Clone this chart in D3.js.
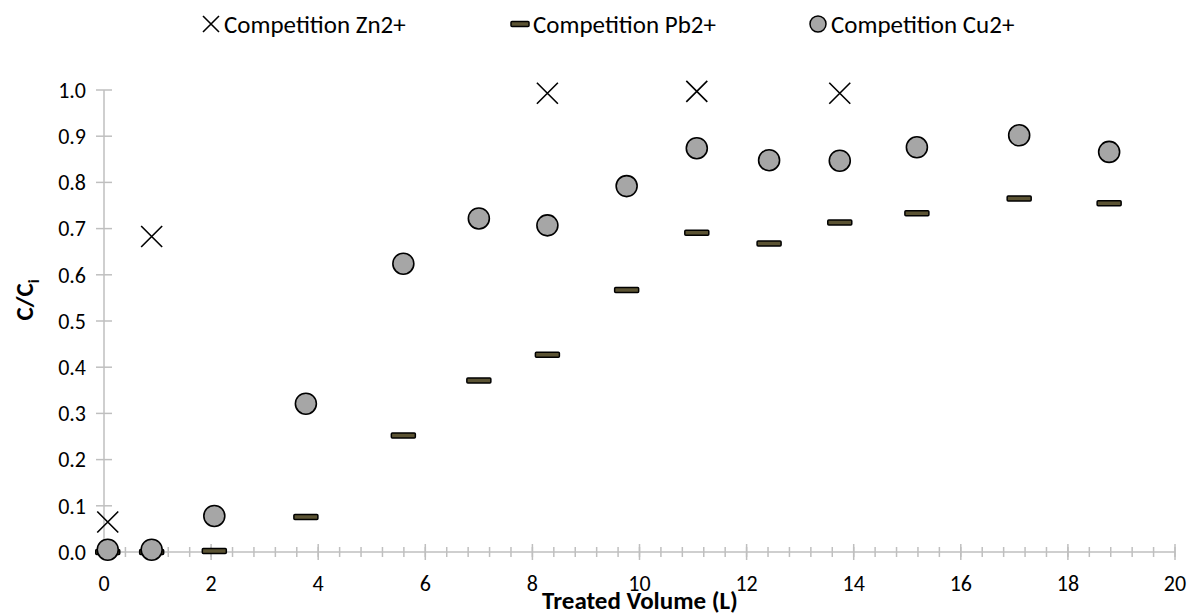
<!DOCTYPE html>
<html>
<head>
<meta charset="utf-8">
<script src="https://cdn.jsdelivr.net/npm/d3@7"></script>
<style>
  body { margin: 0; background: #fff; }
  text { font-family: Calibri, Carlito, Lato, "Open Sans", sans-serif; fill: #000; }
</style>
</head>
<body>
<div id="chart"></div>
<script>
// Data
const volume = [0.07, 0.89, 2.06, 3.77, 5.59, 7.0, 8.28, 9.76, 11.07, 12.42, 13.74, 15.18, 17.09, 18.77];
const cuValues = [0.005, 0.005, 0.078, 0.321, 0.624, 0.722, 0.707, 0.792, 0.874, 0.848, 0.847, 0.876, 0.902, 0.866];
const pbValues = [0.0, 0.0, 0.002, 0.076, 0.252, 0.371, 0.427, 0.567, 0.691, 0.668, 0.713, 0.733, 0.765, 0.755];
const znVolume = [0.07, 0.89, 8.28, 11.07, 13.74];
const znValues = [0.065, 0.683, 0.993, 0.997, 0.993];
const xTicks = [0, 2, 4, 6, 8, 10, 12, 14, 16, 18, 20];
const yTicks = [0, 0.1, 0.2, 0.3, 0.4, 0.5, 0.6, 0.7, 0.8, 0.9, 1.0];
const seriesNames = ["Competition Zn2+", "Competition Pb2+", "Competition Cu2+"];

const width = 1189, height = 616;
const axisColor = "#bfbfbf";

const svg = d3.select("#chart")
  .append("svg")
  .attr("width", width)
  .attr("height", height);

const x = d3.scaleLinear().domain([0, 20]).range([104, 1175]);
const y = d3.scaleLinear().domain([0, 1]).range([552, 90]);

// Y axis (cross ticks)
const yAxis = svg.append("g").attr("transform", `translate(${x(0)},0)`);
yAxis.append("line")
  .attr("y1", y(1)).attr("y2", y(0))
  .attr("stroke", axisColor).attr("stroke-width", 1.5);
yAxis.selectAll("line.tick")
  .data(yTicks)
  .join("line")
  .attr("class", "tick")
  .attr("x1", -8).attr("x2", 8)
  .attr("y1", d => y(d)).attr("y2", d => y(d))
  .attr("stroke", axisColor).attr("stroke-width", 1.5);
yAxis.selectAll("text")
  .data(yTicks)
  .join("text")
  .attr("x", -18)
  .attr("y", d => y(d))
  .attr("dy", "0.35em")
  .attr("text-anchor", "end")
  .style("font-size", "22px")
  .text(d3.format(".1f"));

// X axis with major and minor cross ticks
const xAxis = svg.append("g").attr("transform", `translate(0,${y(0)})`);
xAxis.append("line")
  .attr("x1", x(0)).attr("x2", x(20))
  .attr("stroke", axisColor).attr("stroke-width", 1.5);
xAxis.selectAll("line.minor")
  .data(d3.range(0, 51).map(i => i * 0.4))
  .join("line")
  .attr("class", "minor")
  .attr("x1", d => x(d)).attr("x2", d => x(d))
  .attr("y1", -5).attr("y2", 5)
  .attr("stroke", axisColor).attr("stroke-width", 1.5);
xAxis.selectAll("line.major")
  .data(xTicks)
  .join("line")
  .attr("class", "major")
  .attr("x1", d => x(d)).attr("x2", d => x(d))
  .attr("y1", -8).attr("y2", 8)
  .attr("stroke", axisColor).attr("stroke-width", 1.5);
xAxis.selectAll("text")
  .data(xTicks)
  .join("text")
  .attr("x", d => x(d))
  .attr("y", 31)
  .attr("dy", "0.35em")
  .attr("text-anchor", "middle")
  .style("font-size", "22px")
  .text(d => d);

// Axis titles
svg.append("text")
  .attr("x", 640)
  .attr("y", 609)
  .attr("text-anchor", "middle")
  .style("font-size", "25px")
  .style("font-weight", "bold")
  .text("Treated Volume (L)");

const yTitle = svg.append("text")
  .attr("transform", `translate(33,300) rotate(-90)`)
  .attr("text-anchor", "middle")
  .style("font-size", "25px")
  .style("font-weight", "bold");
yTitle.append("tspan").text("C/C");
yTitle.append("tspan").attr("dy", 6).style("font-size", "16px").text("i");

// Marker helpers
function drawCross(g, cx, cy, s) {
  g.append("path")
    .attr("d", `M${cx - s},${cy - s}L${cx + s},${cy + s}M${cx - s},${cy + s}L${cx + s},${cy - s}`)
    .attr("stroke", "#000").attr("stroke-width", 1.6).attr("fill", "none");
}

// Zn2+ series
const znG = svg.append("g");
znVolume.forEach((v, i) => drawCross(znG, x(v), y(znValues[i]), 10.5));

// Pb2+ series
svg.append("g")
  .selectAll("rect")
  .data(volume)
  .join("rect")
  .attr("x", d => x(d) - 12)
  .attr("y", (d, i) => y(pbValues[i]) - 2.5)
  .attr("width", 24)
  .attr("height", 5)
  .attr("rx", 1)
  .attr("fill", "#5b5333")
  .attr("stroke", "#000")
  .attr("stroke-width", 1.5);

// Cu2+ series
svg.append("g")
  .selectAll("circle")
  .data(volume)
  .join("circle")
  .attr("cx", d => x(d))
  .attr("cy", (d, i) => y(cuValues[i]))
  .attr("r", 10.5)
  .attr("fill", "#a6a6a6")
  .attr("stroke", "#000")
  .attr("stroke-width", 1.6);

// Legend
const legend = svg.append("g");
const legendY = 24;
const legendX = [211, 520, 818];
drawCross(legend, legendX[0], legendY, 8);
legend.append("rect")
  .attr("x", legendX[1] - 9).attr("y", legendY - 2.5)
  .attr("width", 18).attr("height", 5).attr("rx", 1)
  .attr("fill", "#5b5333").attr("stroke", "#000").attr("stroke-width", 1.5);
legend.append("circle")
  .attr("cx", legendX[2]).attr("cy", legendY).attr("r", 8)
  .attr("fill", "#a6a6a6").attr("stroke", "#000").attr("stroke-width", 1.5);
legend.selectAll("text")
  .data(seriesNames)
  .join("text")
  .attr("x", (d, i) => legendX[i] + 13)
  .attr("y", legendY)
  .attr("dy", "0.35em")
  .style("font-size", "25px")
  .text(d => d);
</script>
</body>
</html>
